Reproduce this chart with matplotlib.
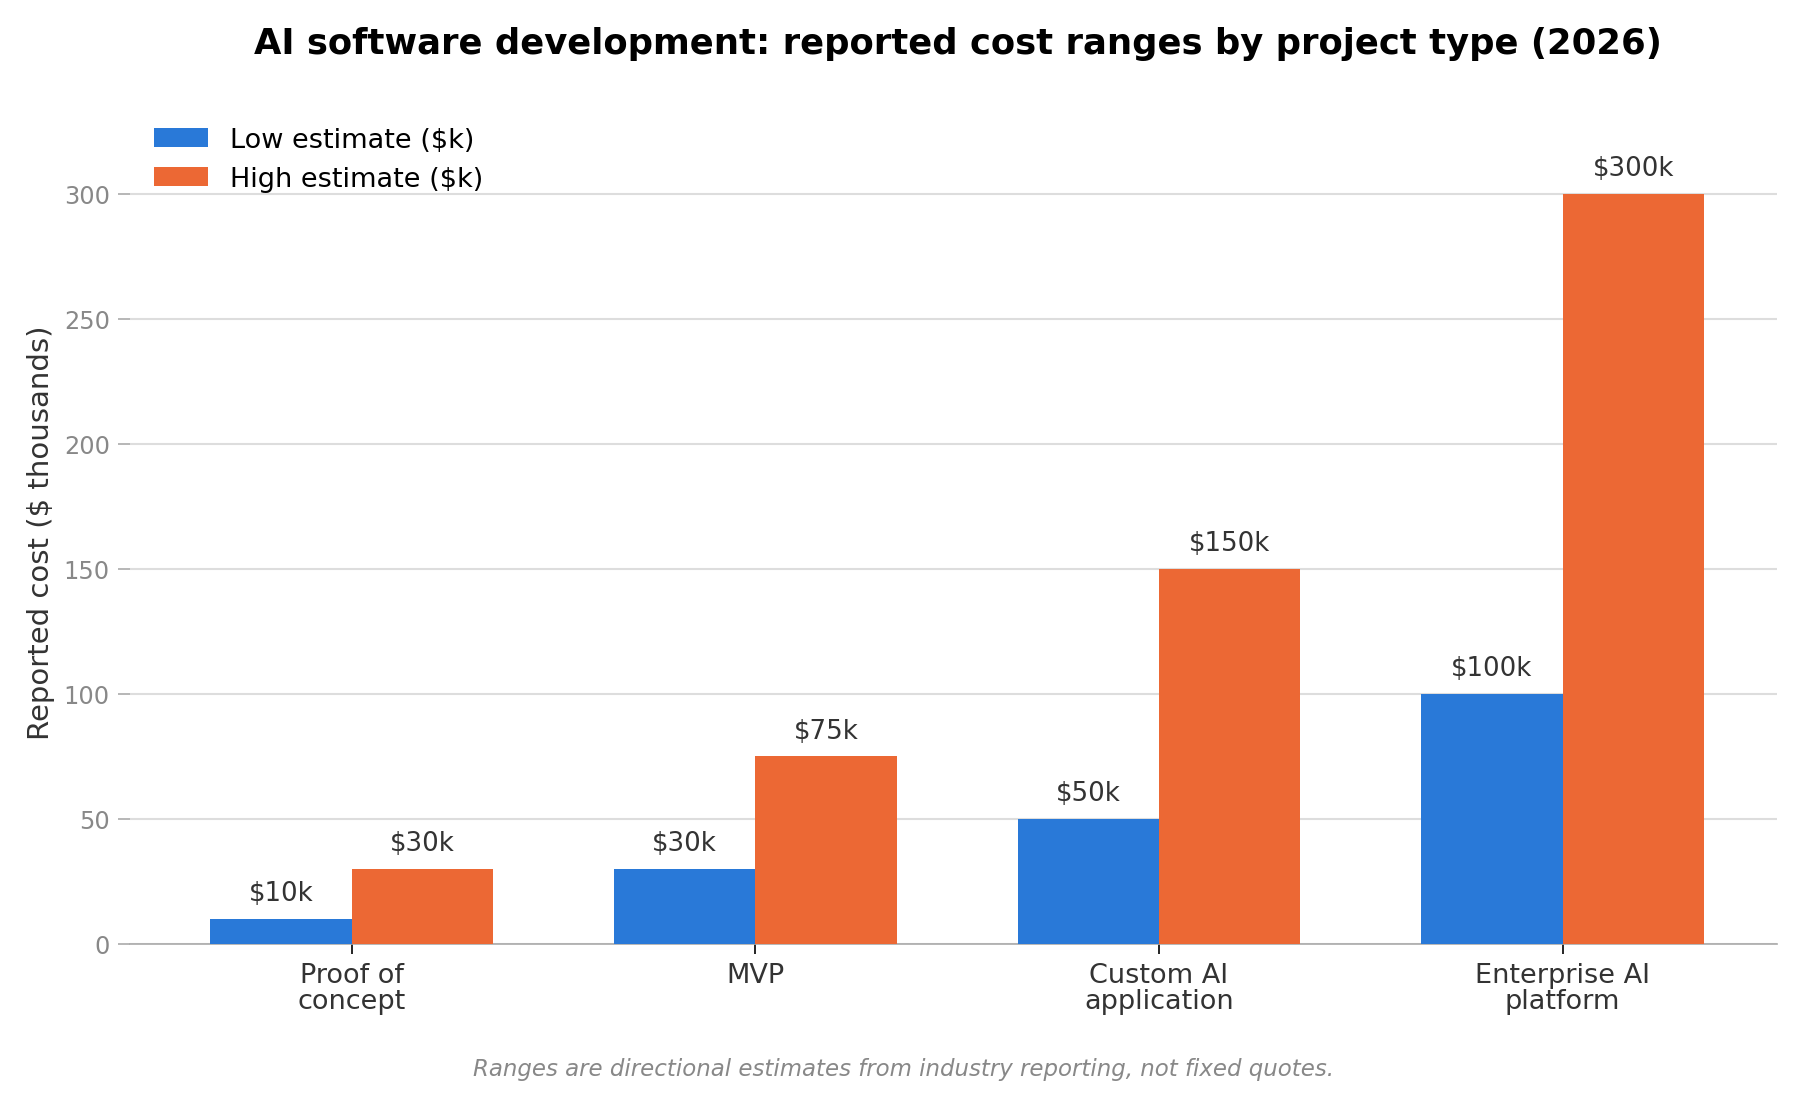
import matplotlib
matplotlib.use("Agg")
import matplotlib.pyplot as plt
import numpy as np

categories = ["Proof of\nconcept", "MVP", "Custom AI\napplication", "Enterprise AI\nplatform"]
low = [10, 30, 50, 100]
high = [30, 75, 150, 300]

fig = plt.figure(figsize=(12, 7.333), dpi=150)
ax = fig.add_axes([0.072, 0.141, 0.915, 0.75])
x = np.arange(len(categories))
w = 0.35
b1 = ax.bar(x - w/2, low, w, color="#2979d8", label="Low estimate ($k)", zorder=3)
b2 = ax.bar(x + w/2, high, w, color="#ec6834", label="High estimate ($k)", zorder=3)
for bars, vals in ((b1, low), (b2, high)):
    for r, v in zip(bars, vals):
        ax.text(r.get_x() + r.get_width()/2, v + 5, f"${v}k", ha="center", va="bottom",
                fontsize=12.5, color="#333333")
ax.set_xlim(-0.55, 3.53)
ax.set_ylim(0, 330)
ax.set_yticks([0, 50, 100, 150, 200, 250, 300])
ax.set_xticks(x)
ax.set_xticklabels(categories, fontsize=13, color="#333333", linespacing=1.0)
ax.tick_params(axis="y", labelsize=11.5, labelcolor="#888888", color="#aaaaaa", length=6)
ax.tick_params(axis="x", length=5)
ax.grid(axis="y", color="#dddddd", linewidth=1, zorder=0)
for s in ("top", "right", "left"):
    ax.spines[s].set_visible(False)
ax.spines["bottom"].set_color("#aaaaaa")
ax.set_ylabel("Reported cost ($ thousands)", fontsize=14, color="#333333")
ax.legend(loc="upper left", bbox_to_anchor=(0.0, 1.02), frameon=False, fontsize=13)
fig.suptitle("AI software development: reported cost ranges by project type (2026)",
             x=0.532, y=0.975, fontsize=17, fontweight="bold")
fig.text(0.502, 0.022, "Ranges are directional estimates from industry reporting, not fixed quotes.",
         ha="center", fontsize=11, style="italic", color="#888888")
fig.savefig("out.png")
